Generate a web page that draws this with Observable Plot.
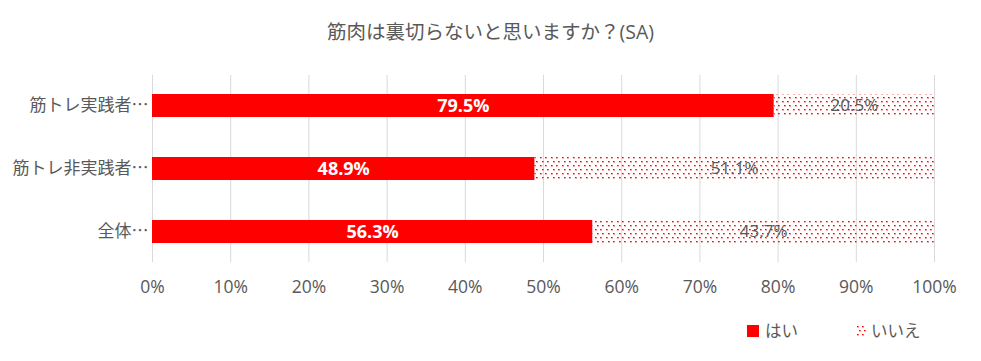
<!DOCTYPE html>
<html><head><meta charset="utf-8">
<script src="https://cdn.jsdelivr.net/npm/d3@7"></script>
<script src="https://cdn.jsdelivr.net/npm/@observablehq/plot@0.6"></script>
<style>
body{margin:0;background:#fff;font-family:"Open Sans","Noto Sans CJK JP",sans-serif;color:#595959;}
#wrap{position:relative;width:981px;height:361px;}
#title{position:absolute;top:19px;left:0;width:981px;text-align:center;font-size:19.5px;line-height:26px;color:#595959;}
#chart{position:absolute;top:60px;left:0;}
#legend{position:absolute;top:319px;left:747px;font-size:16.5px;line-height:24px;color:#595959;display:flex;align-items:center;}
#legend span{display:inline-flex;align-items:center;}
</style></head><body>
<div id="wrap">
<div id="title">筋肉は裏切らないと思いますか？(SA)</div>
<div id="chart"></div>
<div id="legend"></div>
</div>
<script>
const categories = ["筋トレ実践者…", "筋トレ非実践者…", "全体…"];
const yesValues = [79.5, 48.9, 56.3];
const noValues = [20.5, 51.1, 43.7];
const seriesNames = ["はい", "いいえ"];
const xTicks = [0,10,20,30,40,50,60,70,80,90,100];

const data = [];
categories.forEach((c,i)=>{
  data.push({cat:c, series:seriesNames[0], x1:0, x2:yesValues[i], v:yesValues[i]});
  data.push({cat:c, series:seriesNames[1], x1:yesValues[i], x2:yesValues[i]+noValues[i], v:noValues[i]});
});
const yes = data.filter(d=>d.series===seriesNames[0]);
const no = data.filter(d=>d.series===seriesNames[1]);

const chart = Plot.plot({
  width: 981, height: 250,
  marginLeft: 152, marginRight: 47, marginTop: 15, marginBottom: 48,
  style: {fontFamily: '"Open Sans","Noto Sans CJK JP",sans-serif', fontSize: "14px", color: "#595959", background: "transparent"},
  x: {domain:[0,100], ticks: xTicks, tickFormat: d=>d+"%", label:null},
  y: {domain: categories, paddingInner: 0.635, paddingOuter: 0.30, label:null},
  marks: [
    Plot.gridX(xTicks, {stroke:"#d9d9d9", strokeOpacity:1, strokeWidth:1}),
    Plot.axisX({ticks: xTicks, tickFormat: d=>d+"%", tickSize:0, tickPadding:18, fontSize:17.5, fill:"#595959", label:null}),
    Plot.axisY({tickSize:0, tickPadding:4, fontSize:17, fill:"#595959", label:null, fontFamily:'"Noto Sans CJK JP",sans-serif'}),
    Plot.barX(yes, {y:"cat", x1:"x1", x2:"x2", fill:"#ff0000"}),
    Plot.barX(no, {y:"cat", x1:"x1", x2:"x2", fill:"#ff0000", className:"nobar"}),
    Plot.text(yes, {y:"cat", x:d=>(d.x1+d.x2)/2, text:d=>d.v.toFixed(1)+"%", fill:"white", fontWeight:"bold", fontSize:18}),
    Plot.text(no, {y:"cat", x:d=>(d.x1+d.x2)/2, text:d=>d.v.toFixed(1)+"%", fill:"#595959", fontSize:17})
  ]
});
const ns = "http://www.w3.org/2000/svg";
const dot = (x,y)=>`<rect x="${x}" y="${y}" width="1" height="1" fill="#ff0000"/><rect x="${x+1}" y="${y}" width="1" height="1" fill="#ff6060"/><rect x="${x}" y="${y+1}" width="2" height="1" fill="#ffb0b0"/>`;
const patternBody = dot(1,1)+dot(6,1)+dot(3,5)+dot(8,5);
const defs = document.createElementNS(ns,"defs");
defs.innerHTML = '<pattern id="dots" patternUnits="userSpaceOnUse" width="11" height="8">'+patternBody+'</pattern>';
chart.insertBefore(defs, chart.firstChild);
chart.querySelectorAll(".nobar rect").forEach(r=>r.setAttribute("fill","url(#dots)"));
chart.querySelectorAll("g.nobar").forEach(g=>g.setAttribute("fill","url(#dots)"));
document.getElementById("chart").appendChild(chart);

const leg = document.getElementById("legend");
leg.innerHTML = '<span><svg width="12" height="12" style="margin-right:6px"><rect width="12" height="12" fill="#ff0000"/></svg>'+seriesNames[0]+'</span>'+
 '<span style="margin-left:58px"><svg width="12" height="12" style="margin-right:3px"><defs><pattern id="dots2" patternUnits="userSpaceOnUse" width="11" height="8">'+patternBody+'</pattern></defs><rect width="12" height="12" fill="url(#dots2)"/></svg>'+seriesNames[1]+'</span>';
</script>
</body></html>
